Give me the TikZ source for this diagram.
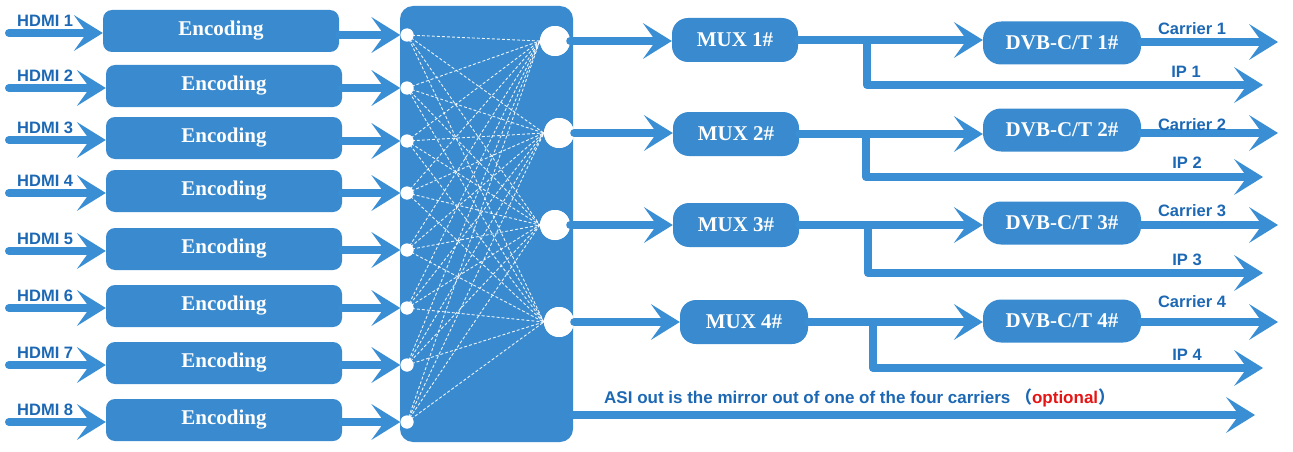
\documentclass[tikz,border=0pt]{standalone}
\usepackage{fontspec}
\setmainfont{Liberation Serif}
\newfontfamily\labfont{Liberation Sans}
\newfontfamily\cjkfont{Noto Sans CJK SC}
\usetikzlibrary{arrows.meta}
\definecolor{boxblue}{RGB}{57,138,206}
\definecolor{arrblue}{RGB}{58,142,212}
\definecolor{labblue}{RGB}{28,104,180}
\definecolor{optred}{RGB}{230,20,20}
\tikzset{
  encbox/.style={fill=boxblue, rounded corners=9pt, minimum width=236pt, minimum height=42pt, inner sep=0pt,
    text=white, font=\fontsize{21}{21}\selectfont\bfseries},
  muxbox/.style={fill=boxblue, rounded corners=16pt, minimum width=126pt, minimum height=44pt, inner sep=0pt,
    text=white, font=\fontsize{21}{21}\selectfont\bfseries},
  dvbbox/.style={fill=boxblue, rounded corners=18pt, minimum width=158pt, minimum height=43pt, inner sep=0pt,
    text=white, font=\fontsize{21}{21}\selectfont\bfseries},
  matbox/.style={fill=boxblue, rounded corners=13pt, minimum width=173pt, minimum height=436pt, inner sep=0pt},
  smalldot/.style={circle, fill=white, minimum size=13pt, inner sep=0pt},
  bigdot/.style={circle, fill=white, minimum size=30pt, inner sep=0pt},
  arr/.style={draw=arrblue, line width=8pt, line cap=round, line join=round,
    -{Stealth[length=29pt 0 0, width=36pt 0 0, inset=13pt 0 0, line width=0pt, fill=arrblue]}},
  mesh/.style={draw=white, opacity=0.9, line width=0.9pt, dash pattern=on 3pt off 2pt},
  lab/.style={text=labblue, font=\labfont\fontsize{16.5}{16.5}\selectfont\bfseries, inner sep=0pt},
}
\begin{document}
\begin{tikzpicture}[x=1pt, y=-1pt]
\useasboundingbox (0,0) rectangle (1293,452);

% encoding boxes, HDMI inputs
\foreach \i/\y/\cx in {1/31/221, 2/86/224, 3/138/224, 4/191/224, 5/249/224, 6/306/224, 7/363/224, 8/420/224} {
  \node[encbox] (enc\i) at (\cx,\y) {Encoding};
  \coordinate (in\i) at (9,\y+2);
  \draw[arr] (in\i) -- (enc\i.west |- in\i);
  \node[lab, anchor=west] (hl\i) at (17,\y-10) {HDMI \i};
}

% matrix
\node[matbox] (mat) at (486.5,224) {};
\foreach \i/\y in {1/35, 2/88, 3/141, 4/193, 5/250, 6/308, 7/365, 8/422} {
  \node[smalldot] (ld\i) at (407,\y) {};
}
\foreach \j/\x/\y in {1/555/41, 2/559/133, 3/555/225, 4/559/322} {
  \node[bigdot] (rc\j) at (\x,\y) {};
}
\foreach \i in {1,...,8} {
  \foreach \j in {1,...,4} {
    \draw[mesh] (ld\i.center) -- (rc\j.west);
  }
}
\foreach \i in {1,...,8} {
  \node[smalldot] at (ld\i) {};
}
\foreach \j in {1,...,4} {
  \node[bigdot] at (rc\j) {};
}
% encoding -> matrix
\foreach \i in {1,...,8} {
  \draw[arr] (enc\i.east |- ld\i) -- (ld\i.west);
}

% MUX boxes
\node[muxbox] (mux1) at (735,40) {MUX 1\#};
\node[muxbox] (mux2) at (736,134) {MUX 2\#};
\node[muxbox] (mux3) at (736,225) {MUX 3\#};
\node[muxbox, minimum width=128pt] (mux4) at (744,322) {MUX 4\#};

% DVB boxes
\node[dvbbox] (dvb1) at (1062,43) {DVB-C/T 1\#};
\node[dvbbox] (dvb2) at (1062,130) {DVB-C/T 2\#};
\node[dvbbox] (dvb3) at (1062,223) {DVB-C/T 3\#};
\node[dvbbox] (dvb4) at (1062,321) {DVB-C/T 4\#};

% matrix -> MUX
\foreach \j in {1,...,4} {
  \draw[arr] (rc\j.east) -- (mux\j.west |- rc\j);
}

% MUX -> DVB, branches to IP
\foreach \j/\bx/\ipy/\cy in {1/867/85/42, 2/866/177/133, 3/868/273/225, 4/873/368/322} {
  \coordinate (br\j) at (\bx, 0 |- mux\j);
  \coordinate (ip\j) at (1263,\ipy);
  \coordinate (ca\j) at (1278,\cy);
  \draw[arr] (br\j) |- (ip\j);
  \draw[arr] (mux\j.east) -- (dvb\j.west |- mux\j);
  \draw[arr] (dvb\j.east |- ca\j) -- (ca\j);
}

% labels
\node[lab] (cl1) at (1192,29) {Carrier 1};
\node[lab] (il1) at (1186,72) {IP 1};
\node[lab] (cl2) at (1192,125) {Carrier 2};
\node[lab] (il2) at (1187,163) {IP 2};
\node[lab] (cl3) at (1192,211) {Carrier 3};
\node[lab] (il3) at (1187,260) {IP 3};
\node[lab] (cl4) at (1192,302) {Carrier 4};
\node[lab] (il4) at (1187,355) {IP 4};

% ASI out
\coordinate (asi) at (1255,415);
\draw[arr] (mat.east |- asi) -- (asi);
\node[lab, anchor=west, font=\labfont\fontsize{17}{17}\selectfont\bfseries] (asil) at (604,398)
  {ASI out is the mirror out of one of the four carriers {\cjkfont （}\textcolor{optred}{optional}{\cjkfont ）}};
\end{tikzpicture}
\end{document}
